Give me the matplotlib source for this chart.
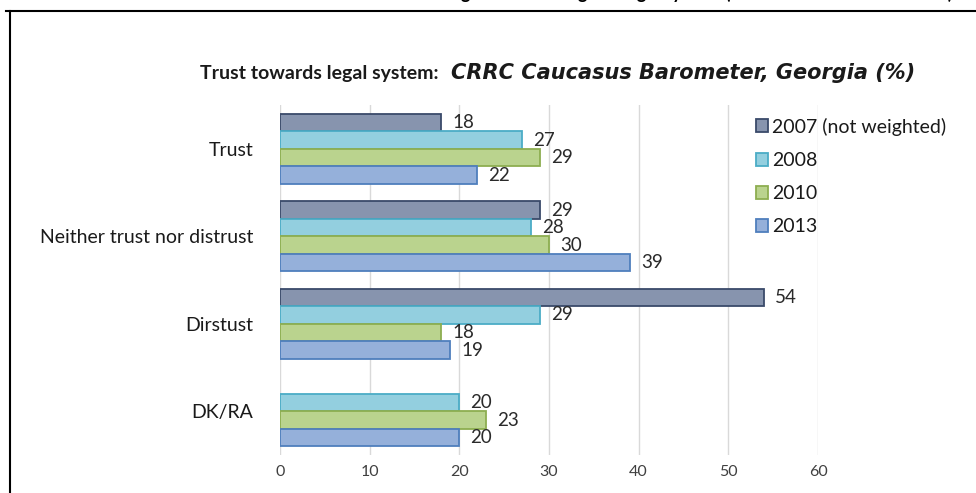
import numpy as np
import matplotlib
matplotlib.use('Agg')
import matplotlib.pyplot as plt

plt.rcParams['font.family'] = ['Lato', 'DejaVu Sans']

# Данные
categories = ['Trust', 'Neither trust nor distrust', 'Dirstust', 'DK/RA']
series_names = ['2007 (not weighted)', '2008', '2010', '2013']
values_2007 = [18, 29, 54, np.nan]
values_2008 = [27, 28, 29, 20]
values_2010 = [29, 30, 18, 23]
values_2013 = [22, 39, 19, 20]
x_ticks = [0, 10, 20, 30, 40, 50, 60]

all_values = [values_2007, values_2008, values_2010, values_2013]
face_colors = ['#8794AE', '#93CFDF', '#BAD38E', '#95B0DA']
edge_colors = ['#3A4A6A', '#4BACC6', '#8DAE50', '#4F7FBD']

fig = plt.figure(figsize=(9.76, 4.93), dpi=100)

# рамка документа
fig.add_artist(plt.Line2D([6 / 976, 1.0], [1 - 11 / 493, 1 - 11 / 493],
                          transform=fig.transFigure, color='black', lw=1.5))
fig.add_artist(plt.Line2D([10 / 976, 10 / 976], [0, 1 - 11 / 493],
                          transform=fig.transFigure, color='black', lw=1.5))

# обрезанная подпись сверху (видны только хвосты букв)
fig.text(953 / 976, 1.0 + 1 / 493, 'Figure 4: Trusting the legal system (CRRC Caucasus Barometer)',
         ha='right', va='baseline', fontsize=13, fontweight='bold', color='black')

ax = fig.add_axes([280 / 976, 1 - 455 / 493, 538 / 976, 350 / 493])
ax.set_facecolor('none')

y = np.arange(len(categories))
bar_h = 0.2
for i, vals in enumerate(all_values):
    pos = y - 0.3 + i * bar_h
    ax.barh(pos, vals, height=bar_h, color=face_colors[i], edgecolor=edge_colors[i],
            linewidth=1.3, label=series_names[i], zorder=3)
    for p, v in zip(pos, vals):
        if np.isnan(v):
            continue
        ax.annotate(f'{v:.0f}', xy=(v, p), xytext=(8, 0), textcoords='offset points',
                    ha='left', va='center', fontsize=13.5, color='#2a2a2a', zorder=4)

ax.set_xlim(0, 60)
ax.set_ylim(3.5, -0.5)
ax.set_xticks(x_ticks)
ax.set_xticklabels([str(t) for t in x_ticks], fontsize=11.5, color='#404040')
ax.set_yticks(y)
ax.set_yticklabels(categories, fontsize=14, color='#1a1a1a')
ax.tick_params(axis='both', length=0)
ax.tick_params(axis='x', pad=7)
ax.tick_params(axis='y', pad=19)
ax.grid(axis='x', color='#D9D9D9', linewidth=1, zorder=0)
for s in ax.spines.values():
    s.set_visible(False)

fig.text(200 / 976, 1 - 73 / 493, 'Trust towards legal system:', fontsize=14,
         fontweight='bold', color='#1a1a1a', va='center', ha='left')
fig.text(451 / 976, 1 - 73 / 493, 'CRRC Caucasus Barometer, Georgia (%)', fontsize=15,
         fontweight='bold', style='italic', family=['DejaVu Sans'], color='#1a1a1a',
         va='center', ha='left')

leg = ax.legend(loc='upper left', bbox_to_anchor=(746 / 976, 1 - 108 / 493),
                bbox_transform=fig.transFigure, frameon=False, fontsize=14,
                handlelength=0.65, handleheight=0.65, handletextpad=0.2, labelspacing=0.83,
                borderpad=0)
for t in leg.get_texts():
    t.set_color('#1a1a1a')

plt.savefig('out.png', dpi=100)
plt.close()
